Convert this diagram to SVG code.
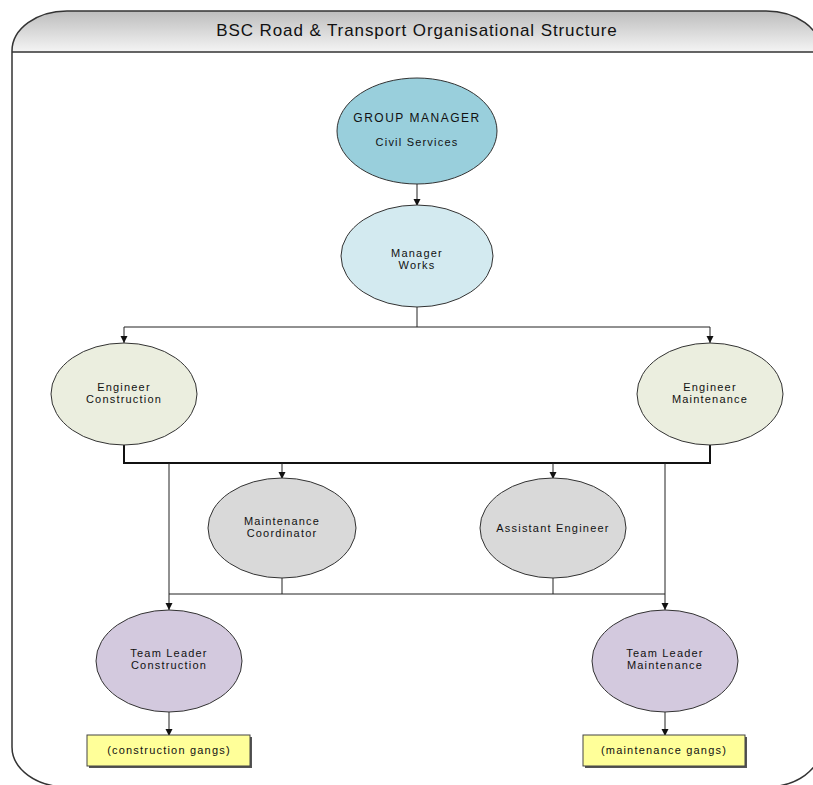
<svg xmlns="http://www.w3.org/2000/svg" width="813" height="785" viewBox="0 0 813 785">
<defs>
<linearGradient id="hdr" gradientUnits="userSpaceOnUse" x1="0" y1="11" x2="0" y2="53">
<stop offset="0" stop-color="#bdbdbd"/>
<stop offset="0.97" stop-color="#f4f4f4"/>
<stop offset="1" stop-color="#ffffff"/>
</linearGradient>
<marker id="arr" markerUnits="userSpaceOnUse" markerWidth="8" markerHeight="8" refX="7" refY="4" orient="auto">
<path d="M0,0.5 L7,4 L0,7.5 z" fill="#111"/>
</marker>
<style>
.lbl{font-family:"Liberation Sans",Arial,sans-serif;font-size:11px;letter-spacing:1.2px;fill:#111;text-anchor:middle}
.ttl{font-family:"Liberation Sans",Arial,sans-serif;font-size:17px;letter-spacing:0.9px;fill:#111;text-anchor:middle}
.node{stroke:#333;stroke-width:1}
.c{fill:none;stroke:#222;stroke-width:1}
.ca{fill:none;stroke:#222;stroke-width:1;marker-end:url(#arr)}
.cb{fill:none;stroke:#111;stroke-width:2}
.box{fill:#ffff99;stroke:#444;stroke-width:1}
</style>
</defs>
<rect width="813" height="785" fill="#ffffff"/>
<g id="frame">
<rect x="12" y="11" width="809" height="776" rx="55" ry="40" fill="url(#hdr)" stroke="#333" stroke-width="1.5"/>
<line x1="12" y1="52" x2="821" y2="52" stroke="#333" stroke-width="1.5"/>
<text class="ttl" x="417" y="36">BSC Road &amp; Transport Organisational Structure</text>
</g>
<g id="connectors">
<line class="ca" x1="417" y1="184" x2="417" y2="206"/>
<polyline class="c" points="417,307 417,327"/>
<line class="c" x1="124" y1="327" x2="710" y2="327"/>
<line class="ca" x1="124" y1="327" x2="124" y2="343"/>
<line class="ca" x1="710" y1="327" x2="710" y2="343"/>
<polyline class="cb" points="124,445 124,463 710,463 710,445"/>
<line class="ca" x1="282" y1="463" x2="282" y2="479"/>
<line class="ca" x1="553" y1="463" x2="553" y2="479"/>
<line class="ca" x1="169" y1="463" x2="169" y2="610"/>
<line class="ca" x1="665" y1="463" x2="665" y2="610"/>
<polyline class="c" points="282,578 282,594"/>
<polyline class="c" points="553,578 553,594"/>
<line class="c" x1="169" y1="594" x2="665" y2="594"/>
<line class="ca" x1="169" y1="712" x2="169" y2="736"/>
<line class="ca" x1="665" y1="712" x2="665" y2="736"/>
</g>
<g id="group-manager">
<ellipse class="node" cx="417" cy="131" rx="80" ry="53" fill="#99cfdc"/>
<text class="lbl" x="417" y="122" style="font-size:12px;letter-spacing:1.5px">GROUP MANAGER</text>
<text class="lbl" x="417" y="146">Civil Services</text>
</g>
<g id="manager-works">
<ellipse class="node" cx="417" cy="256" rx="76" ry="51" fill="#d3eaf0"/>
<text class="lbl" x="417" y="257">Manager</text>
<text class="lbl" x="417" y="269">Works</text>
</g>
<g id="engineer-construction">
<ellipse class="node" cx="124" cy="394" rx="73" ry="51" fill="#ebeedf"/>
<text class="lbl" x="124" y="391">Engineer</text>
<text class="lbl" x="124" y="403">Construction</text>
</g>
<g id="engineer-maintenance">
<ellipse class="node" cx="710" cy="394" rx="73" ry="51" fill="#ebeedf"/>
<text class="lbl" x="710" y="391">Engineer</text>
<text class="lbl" x="710" y="403">Maintenance</text>
</g>
<g id="maintenance-coordinator">
<ellipse class="node" cx="282" cy="528" rx="74" ry="50" fill="#d9d9d9"/>
<text class="lbl" x="282" y="525">Maintenance</text>
<text class="lbl" x="282" y="537">Coordinator</text>
</g>
<g id="assistant-engineer">
<ellipse class="node" cx="553" cy="528" rx="73" ry="50" fill="#d9d9d9"/>
<text class="lbl" x="553" y="532">Assistant Engineer</text>
</g>
<g id="team-leader-construction">
<ellipse class="node" cx="169" cy="661" rx="73" ry="51" fill="#d3c9de"/>
<text class="lbl" x="169" y="657">Team Leader</text>
<text class="lbl" x="169" y="669">Construction</text>
</g>
<g id="team-leader-maintenance">
<ellipse class="node" cx="665" cy="661" rx="73" ry="51" fill="#d3c9de"/>
<text class="lbl" x="665" y="657">Team Leader</text>
<text class="lbl" x="665" y="669">Maintenance</text>
</g>
<g id="construction-gangs">
<rect x="89" y="737" width="163" height="31" fill="#555"/>
<rect class="box" x="87" y="735" width="163" height="31"/>
<text class="lbl" x="169" y="754">(construction gangs)</text>
</g>
<g id="maintenance-gangs">
<rect x="585" y="737" width="162" height="31" fill="#555"/>
<rect class="box" x="583" y="735" width="162" height="31"/>
<text class="lbl" x="664" y="754">(maintenance gangs)</text>
</g>
</svg>
